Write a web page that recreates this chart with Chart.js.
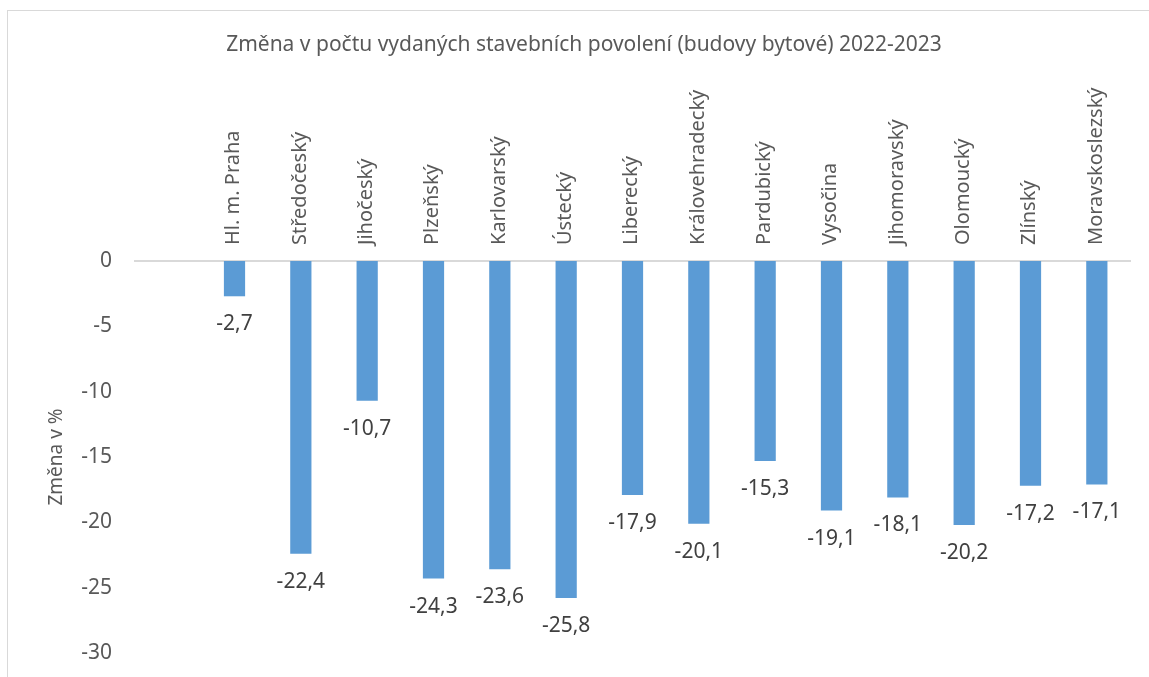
<!DOCTYPE html>
<html><head><meta charset="utf-8">
<script src="https://cdn.jsdelivr.net/npm/chart.js@4.4.1/dist/chart.umd.min.js"></script>
<style>
html,body{margin:0;padding:0;background:#fff;}
#wrap{position:relative;width:1149px;height:677px;overflow:hidden;}
#frame{position:absolute;left:7px;top:10px;width:1200px;height:720px;border:1px solid #d9d9d9;box-sizing:border-box;}
canvas{position:absolute;left:0;top:0;}
</style></head>
<body><div id="wrap"><div id="frame"></div><canvas id="c" width="1149" height="677"></canvas></div>
<script>
const titleText = 'Změna v počtu vydaných stavebních povolení (budovy bytové) 2022-2023';
const yTitle = 'Změna v %';
const categories = ['', 'Hl. m. Praha', 'Středočeský', 'Jihočeský', 'Plzeňský', 'Karlovarský', 'Ústecký', 'Liberecký', 'Královehradecký', 'Pardubický', 'Vysočina', 'Jihomoravský', 'Olomoucký', 'Zlínský', 'Moravskoslezský'];
const values = [null, -2.7, -22.4, -10.7, -24.3, -23.6, -25.8, -17.9, -20.1, -15.3, -19.1, -18.1, -20.2, -17.2, -17.1];
const yMin = -30, yMax = 0, yStep = 5;

const FONT = "'Noto Sans', sans-serif";

const labelPlugin = {
  id: 'barLabels',
  afterDatasetsDraw(chart) {
    const ctx = chart.ctx;
    const meta = chart.getDatasetMeta(0);
    ctx.save();
    ctx.font = '21px ' + FONT;
    ctx.fillStyle = '#404040';
    ctx.textAlign = 'center';
    ctx.textBaseline = 'middle';
    meta.data.forEach((el, i) => {
      const v = values[i];
      if (v === null || v === undefined) return;
      ctx.fillText(v.toFixed(1).replace('.', ','), el.x, el.y + 28);
    });
    ctx.restore();
  }
};

const TITLE_SIZE = 21, TITLE_PT = 32.4;

new Chart(document.getElementById('c'), {
  type: 'bar',
  data: {
    labels: categories,
    datasets: [{
      data: values,
      backgroundColor: '#5B9BD5',
      borderWidth: 0,
      barPercentage: 0.32,
      categoryPercentage: 1.0
    }]
  },
  options: {
    responsive: false,
    animation: false,
    devicePixelRatio: 1,
    layout: { padding: { left: 38, right: 19, top: 0, bottom: 24 } },
    plugins: {
      legend: { display: false },
      tooltip: { enabled: false },
      title: {
        display: true,
        text: titleText,
        color: '#595959',
        font: { family: FONT, size: TITLE_SIZE, weight: 'normal' },
        padding: { top: TITLE_PT, bottom: 0 }
      }
    },
    scales: {
      x: {
        position: 'top',
        grid: { display: false, drawTicks: false },
        border: { display: true, color: '#d9d9d9', width: 2 },
        ticks: {
          autoSkip: false,
          maxRotation: 90, minRotation: 90,
          padding: 16,
          labelOffset: 23,
          color: '#595959',
          font: { family: FONT, size: 20 }
        },
        afterFit(scale) { scale.height = 261 - TITLE_PT - TITLE_SIZE * 1.2; }
      },
      y: {
        min: yMin, max: yMax,
        grid: { display: false, drawTicks: true, tickLength: 23 },
        border: { display: false },
        ticks: {
          stepSize: yStep,
          padding: 0,
          color: '#595959',
          font: { family: FONT, size: 21 },
          callback: v => String(v)
        },
        title: {
          display: true,
          text: yTitle,
          color: '#595959',
          font: { family: FONT, size: 19 },
          padding: { top: 7.6, bottom: 0 }
        },
        afterFit(scale) { scale.width = 97; }
      }
    }
  },
  plugins: [labelPlugin]
});
</script></body></html>
